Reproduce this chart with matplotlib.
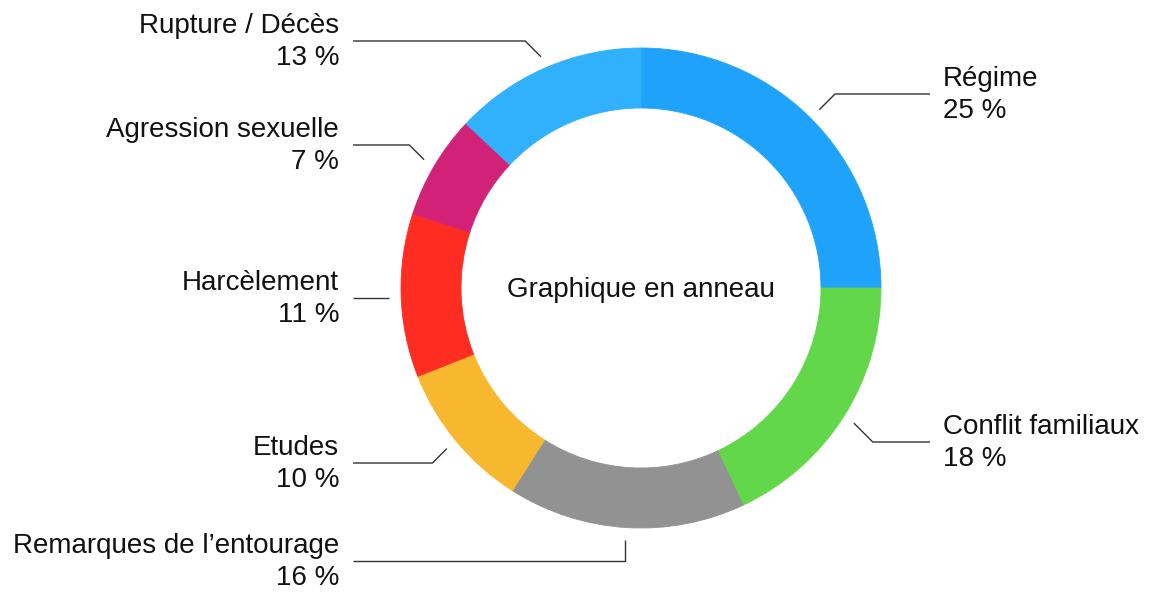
import numpy as np
import matplotlib
matplotlib.use("Agg")
import matplotlib.pyplot as plt

# ---- data ----
labels = ["Régime", "Conflit familiaux", "Remarques de l\u2019entourage", "Etudes",
          "Harcèlement", "Agression sexuelle", "Rupture / Décès"]
values = [25, 18, 16, 10, 11, 7, 13]
colors = ["#1FA3FA", "#63D74A", "#929292", "#F7B72E", "#FF2D21", "#D12278", "#31B0FB"]
center_title = "Graphique en anneau"

# ---- layout (pixel coordinates, y downward) ----
W, H = 1155, 592
CX, CY = 641, 288
R_OUT, R_IN = 240, 180
ANCHOR_R = 252
label_line_y = [94, 442, 561, 463, 298, 145, 41]
elbow_style = ["diag", "diag", "vert", "diag", "flat", "diag", "diag"]
LEFT_LINE_X, RIGHT_LINE_X = 353, 930
LEFT_TEXT_X, RIGHT_TEXT_X = 339, 943
FS = 20

plt.rcParams['font.family'] = ['Liberation Sans', 'DejaVu Sans']
fig = plt.figure(figsize=(W / 100, H / 100), dpi=100)
ax = fig.add_axes([0, 0, 1, 1])

def Y(y):
    return H - y

wedges, _ = ax.pie(values, colors=colors, startangle=90, counterclock=False,
                   radius=R_OUT, center=(CX, Y(CY)), frame=True,
                   wedgeprops=dict(width=R_OUT - R_IN, linewidth=0.6))
for w, c in zip(wedges, colors):
    w.set_edgecolor(c)
ax.set_xlim(0, W)
ax.set_ylim(0, H)
ax.set_aspect('equal')
ax.axis('off')

ax.text(CX, Y(290), center_title, ha='center', va='center', fontsize=FS, color='#111111')

total = sum(values)
start = 90.0
for i, (lab, v) in enumerate(zip(labels, values)):
    span = 360.0 * v / total
    mid = start - span / 2
    start -= span
    th = np.deg2rad(mid)
    ax_ = CX + ANCHOR_R * np.cos(th)
    ay_ = CY - ANCHOR_R * np.sin(th)
    ly = label_line_y[i]
    right = np.cos(th) > 0
    sgn = 1 if right else -1
    endx = RIGHT_LINE_X if right else LEFT_LINE_X
    if elbow_style[i] == "vert":
        xs, ys = [ax_, ax_, endx], [ay_, ly, ly]
    elif elbow_style[i] == "flat":
        xs, ys = [ax_, endx], [ly, ly]
    else:
        ex = ax_ + sgn * abs(ly - ay_)
        xs, ys = [ax_, ex, endx], [ay_, ly, ly]
    ax.plot(xs, [Y(y) for y in ys], color='#333333', lw=1.0, solid_capstyle='butt')
    tx = RIGHT_TEXT_X if right else LEFT_TEXT_X
    ha = 'left' if right else 'right'
    ax.text(tx, Y(ly - 15), lab, ha=ha, va='center', fontsize=FS, color='#111111')
    ax.text(tx, Y(ly + 17), f"{v} %", ha=ha, va='center', fontsize=FS, color='#111111')

fig.savefig("out.png", dpi=100, facecolor='white')
